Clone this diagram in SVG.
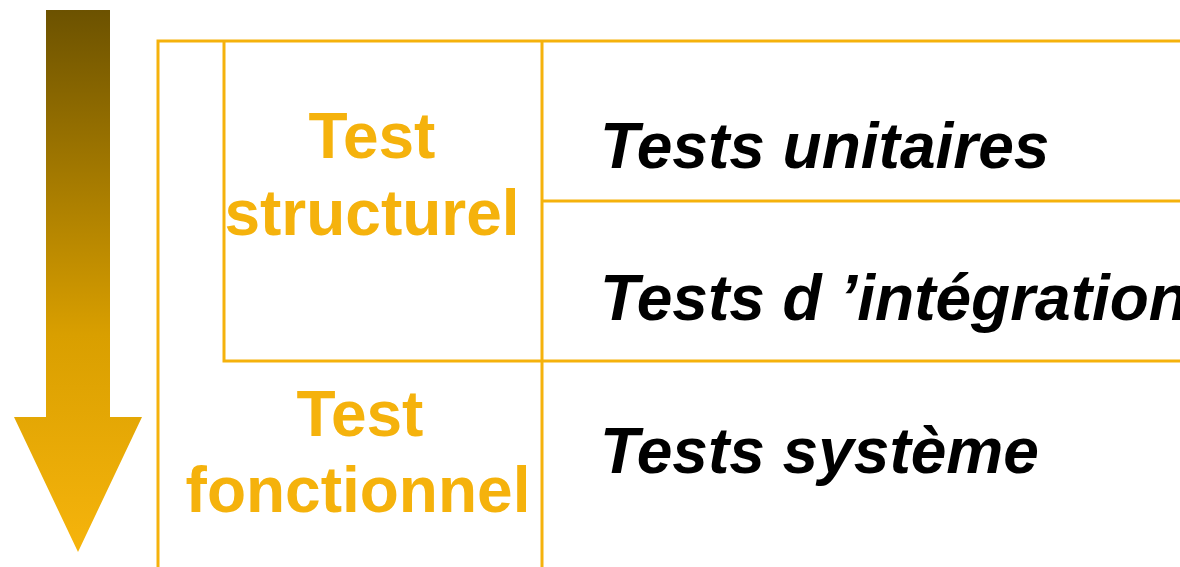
<svg xmlns="http://www.w3.org/2000/svg" width="1180" height="567" viewBox="0 0 1180 567">
<defs>
<linearGradient id="g" x1="0" y1="0" x2="0" y2="1">
<stop offset="0" stop-color="#6c5200"/>
<stop offset="0.6" stop-color="#d99f00"/>
<stop offset="1" stop-color="#f6b40c"/>
</linearGradient>
<style>
.ln{stroke:#f5b20c;stroke-width:3;fill:none}
.or{font-family:"Liberation Sans",Arial,sans-serif;font-weight:bold;font-size:64px;fill:#f5b20c;text-anchor:middle}
.bk{font-family:"Liberation Sans",Arial,sans-serif;font-weight:bold;font-style:italic;font-size:64px;fill:#000}
</style>
</defs>
<rect width="1180" height="567" fill="#fff"/>
<g id="arrow">
<path d="M46,10 H110 V417 H142 L78,552 L14,417 H46 Z" fill="url(#g)"/>
</g>
<g id="connectors">
<path class="ln" d="M158,567 V41 H1180"/>
<path class="ln" d="M224,41 V361 H1180"/>
<path class="ln" d="M542,41 V567"/>
<path class="ln" d="M542,201 H1180"/>
</g>
<g id="test-structurel">
<text class="or" x="372" y="158">Test</text>
<text class="or" x="372" y="235">structurel</text>
</g>
<g id="test-fonctionnel">
<text class="or" x="360" y="436">Test</text>
<text class="or" x="358" y="512">fonctionnel</text>
</g>
<g id="tests-unitaires"><text class="bk" x="600" y="168">Tests unitaires</text></g>
<g id="tests-integration"><text class="bk" x="600" y="320">Tests d ’intégration</text></g>
<g id="tests-systeme"><text class="bk" x="600" y="473">Tests système</text></g>
</svg>
